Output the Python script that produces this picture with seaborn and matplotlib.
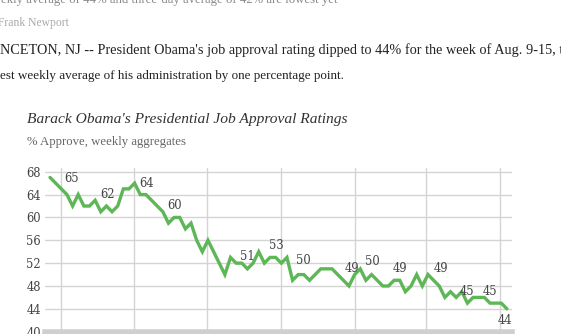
import matplotlib
matplotlib.use("Agg")
import matplotlib.pyplot as plt
import seaborn as sns
import pandas as pd

# ---- data ----
approval = [67, 66, 65, 64, 62, 64, 62, 62, 63, 61, 62, 61, 62, 65, 65, 66,
            64, 64, 63, 62, 61, 59, 60, 60, 58, 59, 56, 54, 56, 54, 52, 50,
            53, 52, 52, 51, 52, 54, 52, 53, 53, 52, 53, 49, 50, 50, 49, 50,
            51, 51, 51, 50, 49, 48, 50, 51, 49, 50, 49, 48, 48, 49, 49, 47,
            48, 50, 48, 50, 49, 48, 46, 47, 46, 47, 45, 46, 46, 46, 45, 45,
            45, 44]
weeks = list(range(len(approval)))
y_ticks = [40, 44, 48, 52, 56, 60, 64, 68]
label_values = ["65", "62", "64", "60", "51", "53", "50", "49", "50", "49", "49", "45", "45", "44"]
label_x = [3.8, 10.2, 17.1, 22.0, 35.0, 40.2, 44.9, 53.5, 57.1, 62.1, 69.4, 73.9, 78.0, 80.7]
label_y = [66.8, 64.0, 65.9, 62.1, 53.2, 55.1, 52.4, 51.0, 52.2, 51.0, 51.0, 47.1, 47.1, 42.0]
grid_weeks = [1.95, 14.8, 27.8, 40.9, 54.0, 66.6, 79.7]

title = "Barack Obama's Presidential Job Approval Ratings"
subtitle = "% Approve, weekly aggregates"
header1 = "ekly average of 44% and three-day average of 42% are lowest yet"
header2 = "Frank Newport"
body1 = "NCETON, NJ -- President Obama's job approval rating dipped to 44% for the week of Aug. 9-15, the"
body2 = "est weekly average of his administration by one percentage point."

df = pd.DataFrame({"week": weeks, "approval": approval})

sns.set_theme(style="white")
plt.rcParams["font.family"] = ["DejaVu Serif"]

W, H = 561, 334
fig = plt.figure(figsize=(W / 100, H / 100), dpi=100)
fig.patch.set_facecolor("white")

def px_box(x0, y0, x1, y1):
    return [x0 / W, 1 - y1 / H, (x1 - x0) / W, (y1 - y0) / H]

ax = fig.add_axes(px_box(45, 168.3, 512, 331.7))
ax.set_facecolor("white")
sns.lineplot(data=df, x="week", y="approval", ax=ax, color="#5db756",
             linewidth=2.4, solid_joinstyle="miter")
ax.set_xlim(-0.89, 81.9)
ax.set_ylim(40, 68.6)
ax.set_yticks(y_ticks)
ax.set_yticklabels([str(v) for v in y_ticks], fontsize=8.3, color="#444444")
ax.set_xticks(grid_weeks)
ax.set_xticklabels([])
ax.tick_params(axis="both", length=0, pad=3)
ax.grid(True, color="#d4d4d4", linewidth=1.0)
ax.set_axisbelow(True)
for s in ["top", "right", "left"]:
    ax.spines[s].set_visible(False)
ax.spines["bottom"].set_color("#cfcfcf")
ax.spines["bottom"].set_linewidth(4)
ax.set_xlabel("")
ax.set_ylabel("")

for t, x, y in zip(label_values, label_x, label_y):
    ax.text(x, y, t, ha="center", va="center", fontsize=8.3, color="#444444")

renderer = fig.canvas.get_renderer()

def fit_text(x_px, base_px, s, target_w, size, **kw):
    t = fig.text(x_px / W, 1 - base_px / H, s, fontsize=size, va="baseline",
                 family="Liberation Serif", **kw)
    w = t.get_window_extent(renderer).width
    t.set_fontsize(size * target_w / w)
    return t

fit_text(1, 3.3, header1, 336, 9, color="#8a8a8a")
fit_text(-2, 26, header2, 71, 9, color="#aaaaaa")
fit_text(0, 54.3, body1, 578, 9, color="#222222")
fit_text(0, 79, body2, 343, 9, color="#222222")
fit_text(27, 122.7, title, 323, 10.5, color="#333333", style="italic")
fit_text(27, 145, subtitle, 158, 8.5, color="#666666")

fig.savefig("out.png", dpi=100, facecolor="white")
